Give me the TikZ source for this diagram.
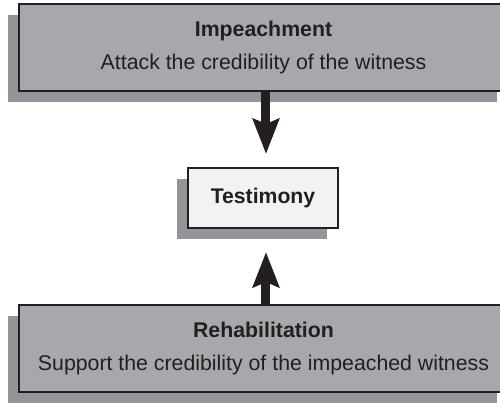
\documentclass[tikz,border=0pt]{standalone}
\usepackage{fontspec}
\setmainfont{Liberation Sans}
\usetikzlibrary{arrows.meta,shadows}
\definecolor{boxgray}{RGB}{166,168,171}
\definecolor{shadowgray}{RGB}{147,149,152}
\definecolor{edgeblack}{RGB}{35,31,32}
\definecolor{lightfill}{RGB}{242,242,242}

\begin{document}
\begin{tikzpicture}[x=0.5pt,y=-0.5pt,
		bigbox/.style={draw=edgeblack,line width=1pt,fill=boxgray,text=edgeblack,
			minimum width=244.5pt,minimum height=43.5pt,inner sep=0pt,align=center,
			font=\fontsize{10.65}{16.8}\selectfont,
			general shadow={fill=shadowgray,shadow xshift=-5.5pt,shadow yshift=-5.5pt}},
		smallbox/.style={draw=edgeblack,line width=1pt,fill=lightfill,text=edgeblack,
			minimum width=75pt,minimum height=30pt,inner sep=0pt,
			font=\fontsize{10.6}{13}\selectfont\bfseries,
			general shadow={fill=shadowgray,shadow xshift=-5.5pt,shadow yshift=-5.5pt}},
		bigarrow/.style={draw=edgeblack,fill=edgeblack,line width=4.5pt,
			-{Stealth[length=17.5pt,width=13pt,inset=2.5pt]}}]
	\useasboundingbox (0,0) rectangle (500,403);
	
	\node[bigbox] (impeach) at (263.5,47.5) {\textbf{Impeachment}\\Attack the credibility of the witness};
	\node[smallbox] (testimony) at (263,198) {Testimony};
	\node[bigbox] (rehab) at (263.5,348.5) {\textbf{Rehabilitation}\\Support the credibility of the impeached witness};
	
	\coordinate (downtip) at (266,154);
	\coordinate (uptip) at (266,252);
	\draw[bigarrow] (impeach.south -| downtip) -- (downtip);
	\draw[bigarrow] (rehab.north -| uptip) -- (uptip);
\end{tikzpicture}
\end{document}
